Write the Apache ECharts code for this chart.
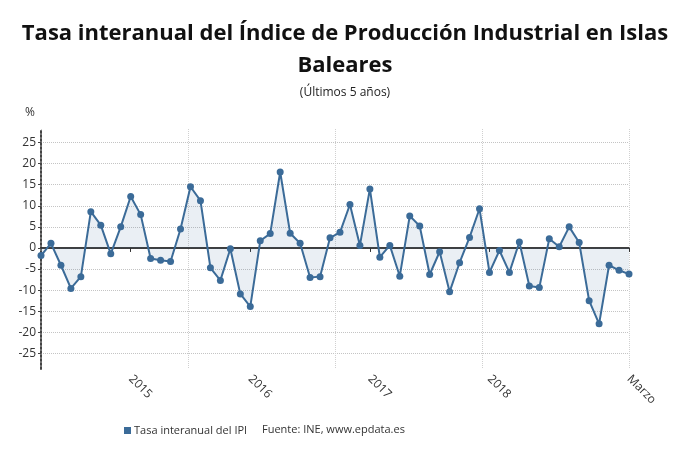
<!DOCTYPE html>
<html>
<head>
<meta charset="utf-8">
<script src="https://cdn.jsdelivr.net/npm/echarts@6/dist/echarts.min.js"></script>
<style>
  html, body { margin: 0; padding: 0; background: #fff; }
  #chart { width: 690px; height: 465px; }
</style>
</head>
<body>
<div id="chart"></div>
<script>
const categories = [
  '2014-04','2014-05','2014-06','2014-07','2014-08','2014-09','2014-10','2014-11','2014-12',
  '2015-01','2015-02','2015-03','2015-04','2015-05','2015-06','2015-07','2015-08','2015-09','2015-10','2015-11','2015-12',
  '2016-01','2016-02','2016-03','2016-04','2016-05','2016-06','2016-07','2016-08','2016-09','2016-10','2016-11','2016-12',
  '2017-01','2017-02','2017-03','2017-04','2017-05','2017-06','2017-07','2017-08','2017-09','2017-10','2017-11','2017-12',
  '2018-01','2018-02','2018-03','2018-04','2018-05','2018-06','2018-07','2018-08','2018-09','2018-10','2018-11','2018-12',
  '2019-01','2019-02','2019-03'
];
const ipiRate = [
  -1.8, 1.1, -4.1, -9.6, -6.8, 8.6, 5.4, -1.4, 5.0,
  12.2, 7.9, -2.5, -2.9, -3.2, 4.5, 14.5, 11.2, -4.7, -7.7, -0.2, -10.9,
  -13.9, 1.7, 3.4, 18.0, 3.5, 1.1, -7.0, -6.8, 2.4, 3.7, 10.3, 0.6,
  14.0, -2.2, 0.6, -6.7, 7.6, 5.2, -6.3, -0.9, -10.4, -3.5, 2.5, 9.3,
  -5.8, -0.6, -5.8, 1.4, -9.0, -9.4, 2.2, 0.3, 5.0, 1.3, -12.5, -18.0,
  -4.1, -5.3, -6.2
];
const xTickLabels = {
  '2015-01': '2015',
  '2016-01': '2016',
  '2017-01': '2017',
  '2018-01': '2018',
  '2019-03': 'Marzo'
};
const yTickValues = [-25, -20, -15, -10, -5, 0, 5, 10, 15, 20, 25];
const seriesName = 'Tasa interanual del IPI';
const titleText = 'Tasa interanual del Índice de Producción Industrial en Islas\nBaleares';
const subtitleText = '(Últimos 5 años)';
const sourceText = 'Fuente: INE, www.epdata.es';

const FONT = 'Open Sans';
const BLUE = '#3b6b98';
const chart = echarts.init(document.getElementById('chart'), null, { renderer: 'canvas' });
const showTick = (idx, val) => Object.prototype.hasOwnProperty.call(xTickLabels, categories[idx]);

chart.setOption({
  animation: false,
  backgroundColor: '#ffffff',
  title: {
    text: titleText,
    subtext: subtitleText,
    left: 'center',
    top: 13,
    itemGap: 3,
    textStyle: { fontFamily: FONT, fontSize: 22, fontWeight: 'bold', color: '#111', lineHeight: 32 },
    subtextStyle: { fontFamily: FONT, fontSize: 12, color: '#222', lineHeight: 16 }
  },
  legend: {
    left: 119,
    top: 420,
    icon: 'rect',
    itemWidth: 7,
    itemHeight: 7,
    itemGap: 6,
    textStyle: { fontFamily: FONT, fontSize: 11, color: '#333', padding: [0, 0, 0, -2] },
    data: [seriesName]
  },
  graphic: [
    { type: 'text', left: 262, top: 424, style: { text: sourceText, font: '11px "Open Sans"', fill: '#333' } },
    { type: 'text', left: 25, top: 107, style: { text: '%', font: '12px "Open Sans"', fill: '#333' } }
  ],
  grid: { left: 41, right: 61, top: 129, bottom: 96, containLabel: false },
  xAxis: [
    {
      type: 'category',
      data: categories,
      boundaryGap: false,
      axisLine: { show: true, lineStyle: { color: '#333', width: 1.5 } },
      axisTick: { show: true, interval: showTick, length: 4, lineStyle: { color: '#333' } },
      axisLabel: {
        interval: showTick,
        rotate: -45,
        margin: 8,
        fontFamily: FONT,
        fontSize: 12,
        color: '#333',
        formatter: (v) => xTickLabels[v] || ''
      },
      splitLine: { show: false }
    },
    {
      type: 'value',
      min: 0,
      max: categories.length - 1,
      interval: (categories.length - 1) / 4,
      position: 'top',
      axisLine: { show: false },
      axisTick: { show: false },
      axisLabel: { show: false },
      splitLine: { show: true, lineStyle: { color: '#d0d0d0', type: 'dotted', width: 1 } }
    }
  ],
  yAxis: {
    type: 'value',
    min: -28.7,
    max: 28.2,
    axisLine: { show: true, lineStyle: { color: '#444', type: 'dotted', width: 2 } },
    axisTick: { show: true, length: 3, customValues: yTickValues, lineStyle: { color: '#444' } },
    axisLabel: { customValues: yTickValues, fontFamily: FONT, fontSize: 12, color: '#333', margin: 5 },
    splitLine: { show: true, lineStyle: { color: '#c4c4c4', type: 'dotted', width: 1 } }
  },
  series: [
    {
      name: seriesName,
      type: 'line',
      xAxisIndex: 0,
      data: ipiRate,
      symbol: 'circle',
      symbolSize: 7,
      showSymbol: true,
      showAllSymbol: true,
      lineStyle: { color: BLUE, width: 2 },
      itemStyle: { color: BLUE },
      areaStyle: { color: 'rgba(59,107,152,0.15)', origin: 0 },
      markLine: {
        silent: true,
        symbol: 'none',
        label: { show: false },
        lineStyle: { color: '#333', type: 'solid', width: 1.5 },
        data: [{ yAxis: 0 }],
        z: 1
      },
      z: 3
    }
  ]
});
</script>
</body>
</html>
